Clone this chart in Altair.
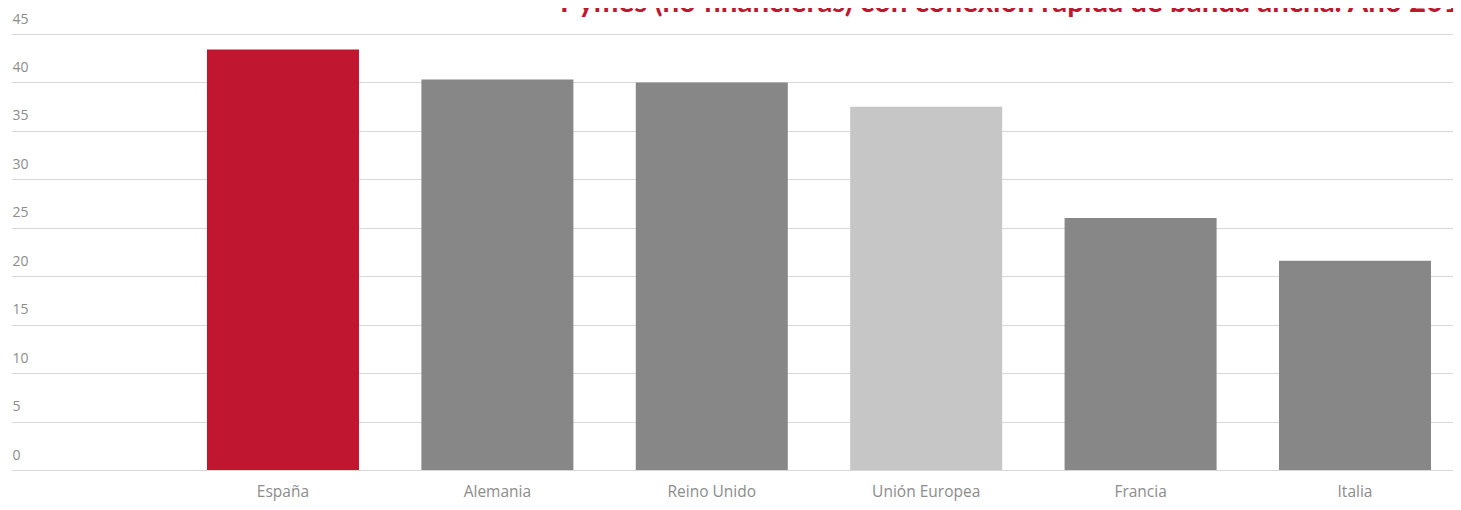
import altair as alt
import pandas as pd

categories = ["España", "Alemania", "Reino Unido", "Unión Europea", "Francia", "Italia"]
values = [43.4, 40.3, 40.0, 37.5, 26.0, 21.6]
colors = ["#C1162F", "#878787", "#878787", "#C6C6C6", "#878787", "#878787"]
y_ticks = [0, 5, 10, 15, 20, 25, 30, 35, 40, 45]
title_text = "Pymes (no financieras) con conexión rápida de banda ancha. Año 2017"

df = pd.DataFrame({"pais": categories, "valor": values, "color": colors})

bars = alt.Chart(df).mark_bar().encode(
    x=alt.X(
        "pais:N",
        sort=categories,
        scale=alt.Scale(paddingInner=0.291, paddingOuter=0.506, align=0.8986),
        axis=alt.Axis(
            title=None, domain=False, ticks=False, labelAngle=0,
            labelFont="Open Sans", labelFontSize=15.5, labelColor="#8c8c8c",
            labelPadding=14, grid=False,
        ),
    ),
    y=alt.Y(
        "valor:Q",
        scale=alt.Scale(domain=[0, 45], nice=False, zero=True),
        axis=alt.Axis(
            title=None, values=y_ticks, domain=False, ticks=False,
            labelAlign="left", labelBaseline="alphabetic", labelPadding=0,
            labelOffset=-11, labelFont="Open Sans", labelFontSize=14,
            labelColor="#8c8c8c", grid=True, gridColor="#b0b0b0",
            gridDash=[1, 1], gridWidth=1,
        ),
    ),
    color=alt.Color("color:N", scale=None, legend=None),
)

title_df = pd.DataFrame({"t": [title_text]})
title = alt.Chart(title_df).mark_text(
    align="left", baseline="alphabetic", font="Lato", fontWeight="bold",
    fontSize=29.5, color="#C1162F",
).encode(
    text="t:N",
    x=alt.value(548),
    y=alt.value(-22),
)

chart = alt.layer(bars, title).properties(
    width=1441, height=436,
    autosize=alt.AutoSizeParams(type="none"),
    padding={"left": 4, "top": 26, "right": 0, "bottom": 32},
).configure_view(stroke=None)

chart.save("out.html", embed_options={"renderer": "svg", "actions": False})
